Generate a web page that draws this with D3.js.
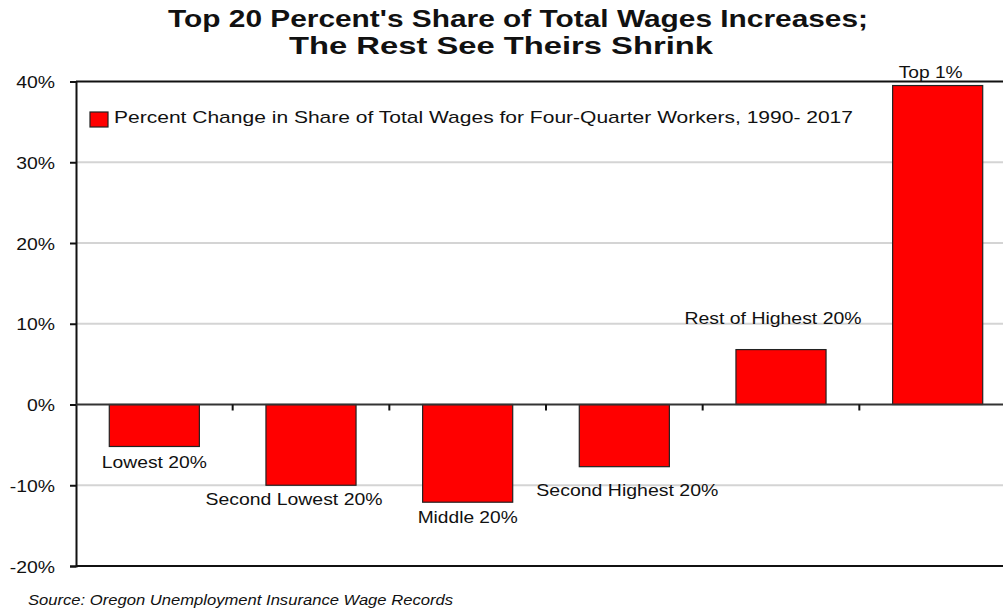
<!DOCTYPE html>
<html>
<head>
<meta charset="utf-8">
<script src="https://cdn.jsdelivr.net/npm/d3@7"></script>
<style>
  body { margin: 0; background: #fff; }
  text { font-family: "Liberation Sans", Arial, sans-serif; fill: #111; }
</style>
</head>
<body>
<div id="chart"></div>
<script>
// data
var groups = ["Lowest 20%", "Second Lowest 20%", "Middle 20%", "Second Highest 20%", "Rest of Highest 20%", "Top 1%"];
var changes = [-5.2, -10.0, -12.1, -7.7, 6.8, 39.5];
var yTicks = [-20, -10, 0, 10, 20, 30, 40];

// label layout: offset from bar end (dx, dy) and drawn width
var labelShift = [[0, 22], [-17, 20], [0, 20.5], [3, 29], [-8, -26], [-7, -8]];
var labelWidth = [105, 177, 100, 182, 177, 64];

var svgWidth = 1003, svgHeight = 610;
var plotLeft = 76, plotRight = 1016, plotTop = 81.5, plotBottom = 566;

var svg = d3.select("#chart").append("svg")
  .attr("width", svgWidth)
  .attr("height", svgHeight);

var x = d3.scaleBand().domain(groups).range([plotLeft, plotRight])
  .paddingInner(0.425).paddingOuter(0.2125);
var y = d3.scaleLinear().domain([-20, 40]).range([plotBottom, plotTop]);

// the source picture is a bit wider than tall, so stretch text to fit
function fit(sel, w) {
  sel.attr("textLength", w).attr("lengthAdjust", "spacingAndGlyphs");
}

// title
svg.append("text")
  .attr("x", 518).attr("y", 27)
  .attr("text-anchor", "middle")
  .attr("font-size", "24px").attr("font-weight", "bold")
  .text("Top 20 Percent's Share of Total Wages Increases;")
  .call(fit, 700);
svg.append("text")
  .attr("x", 501).attr("y", 54)
  .attr("text-anchor", "middle")
  .attr("font-size", "24px").attr("font-weight", "bold")
  .text("The Rest See Theirs Shrink")
  .call(fit, 424);

// gridlines
svg.selectAll(".grid")
  .data(yTicks.filter(d => d !== 0 && d !== -20 && d !== 40))
  .enter().append("line")
  .attr("x1", plotLeft).attr("x2", svgWidth)
  .attr("y1", d => y(d)).attr("y2", d => y(d))
  .attr("stroke", "#d4d4d4").attr("stroke-width", 2);

// top and bottom frame lines
[40, -20].forEach(function(v) {
  svg.append("line")
    .attr("x1", plotLeft).attr("x2", svgWidth)
    .attr("y1", y(v)).attr("y2", y(v))
    .attr("stroke", "#111").attr("stroke-width", 2);
});

// y axis
var leftAxis = d3.axisLeft(y).tickValues(yTicks).tickSize(6).tickFormat(d => d + "%");
var yAxis = svg.append("g")
  .attr("transform", `translate(${plotLeft},0)`)
  .call(leftAxis);
yAxis.select(".domain").attr("stroke", "#111").attr("stroke-width", 2);
yAxis.selectAll(".tick line").attr("stroke", "#111").attr("stroke-width", 2);
yAxis.selectAll(".tick text")
  .attr("x", -21)
  .attr("dy", "0.36em")
  .attr("font-size", "17px")
  .attr("font-family", "Liberation Sans, Arial, sans-serif")
  .attr("fill", "#111")
  .each(function() {
    var t = d3.select(this);
    t.call(fit, this.getComputedTextLength() * 1.14);
  });

// bars
svg.selectAll(".bar")
  .data(changes)
  .enter().append("rect")
  .attr("x", (d, i) => x(groups[i]))
  .attr("width", x.bandwidth())
  .attr("y", d => y(Math.max(0, d)))
  .attr("height", d => Math.abs(y(d) - y(0)))
  .attr("fill", "#ff0000")
  .attr("stroke", "#222").attr("stroke-width", 1.2);

// zero line with category ticks
svg.append("line")
  .attr("x1", plotLeft).attr("x2", svgWidth)
  .attr("y1", y(0)).attr("y2", y(0))
  .attr("stroke", "#333").attr("stroke-width", 2);
svg.selectAll(".ctick")
  .data(groups.slice(1))
  .enter().append("line")
  .attr("x1", d => x(d) - x.step() * x.paddingInner() / 2)
  .attr("x2", d => x(d) - x.step() * x.paddingInner() / 2)
  .attr("y1", y(0)).attr("y2", y(0) + 6)
  .attr("stroke", "#111").attr("stroke-width", 2);

// bar labels
svg.selectAll(".blabel")
  .data(changes)
  .enter().append("text")
  .attr("x", (d, i) => x(groups[i]) + x.bandwidth() / 2 + labelShift[i][0])
  .attr("y", (d, i) => y(d) + labelShift[i][1])
  .attr("text-anchor", "middle")
  .attr("font-size", "17px")
  .attr("textLength", (d, i) => labelWidth[i])
  .attr("lengthAdjust", "spacingAndGlyphs")
  .text((d, i) => groups[i]);

// legend
svg.append("rect")
  .attr("x", 90).attr("y", 112).attr("width", 18).attr("height", 15)
  .attr("fill", "#ff0000").attr("stroke", "#222").attr("stroke-width", 1.2);
svg.append("text")
  .attr("x", 114).attr("y", 122.5)
  .attr("font-size", "17px")
  .text("Percent Change in Share of Total Wages for Four-Quarter Workers, 1990- 2017")
  .call(fit, 739);

// source
svg.append("text")
  .attr("x", 28).attr("y", 605)
  .attr("font-size", "14px").attr("font-style", "italic")
  .text("Source: Oregon Unemployment Insurance Wage Records")
  .call(fit, 425);
</script>
</body>
</html>
